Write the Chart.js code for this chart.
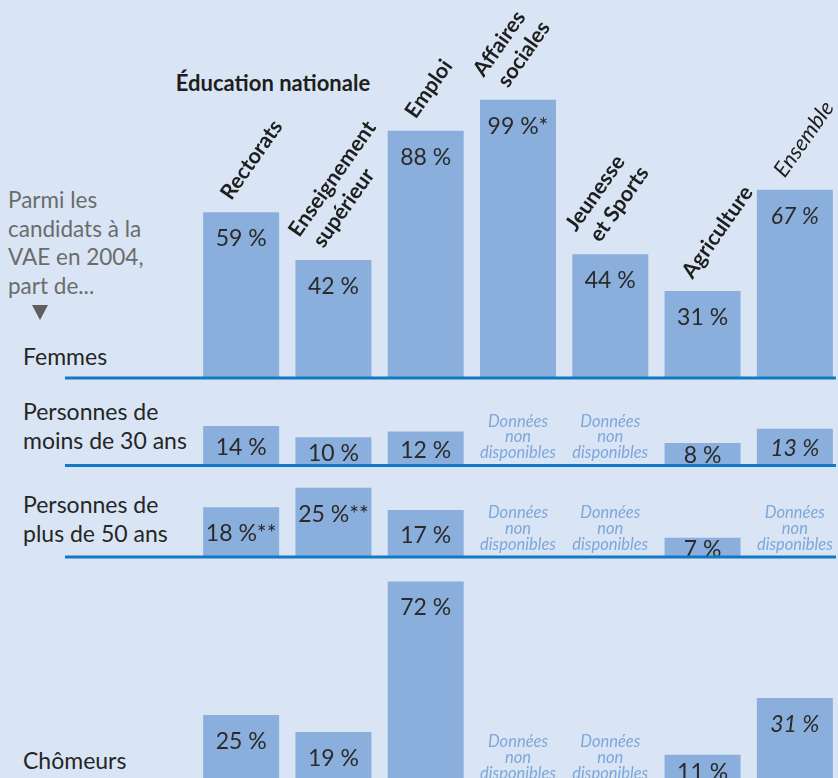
<!DOCTYPE html>
<html><head><meta charset="utf-8">
<script src="https://cdn.jsdelivr.net/npm/chart.js@4.4.1/dist/chart.umd.min.js"></script>
<style>
html,body{margin:0;padding:0;}
body{width:838px;height:778px;overflow:hidden;position:relative;background:#d9e5f4;font-family:Lato,"Open Sans",sans-serif;}
canvas{position:absolute;left:0;}
.t{position:absolute;white-space:nowrap;line-height:28.5px;color:#262626;font-size:23px;}
</style></head><body>
<div class="t" style="left:8px;top:186px;color:#6b6b6b;font-size:22.5px">Parmi les<br>candidats à la<br>VAE en 2004,<br>part de...</div>
<div style="position:absolute;left:32px;top:305px;width:0;height:0;border-left:8.5px solid transparent;border-right:8.5px solid transparent;border-top:15px solid #5f5f5f;"></div>
<div class="t" id="title" style="left:163px;width:220px;text-align:center;top:69px;font-size:22px;font-weight:bold;color:#1e1e1e"></div>
<div class="t" style="left:23px;top:342px">Femmes</div>
<div class="t" style="left:23px;top:397px">Personnes de<br>moins de 30 ans</div>
<div class="t" style="left:23px;top:490px">Personnes de<br>plus de 50 ans</div>
<div class="t" style="left:23px;top:746px">Chômeurs</div>
<canvas id="p1" width="841" height="390" style="top:0px"></canvas>
<canvas id="p2" width="841" height="84" style="top:392px"></canvas>
<canvas id="p3" width="841" height="97" style="top:470px"></canvas>
<canvas id="p4" width="841" height="235" style="top:565px"></canvas>
<script>
// ---- data ----
const categories = ['Rectorats','Enseignement supérieur','Emploi','Affaires sociales','Jeunesse et Sports','Agriculture','Ensemble'];
const categoryLines = [['Rectorats'],['Enseignement','supérieur'],['Emploi'],['Affaires','sociales'],['Jeunesse','et Sports'],['Agriculture'],['Ensemble']];
const groupTitle = 'Éducation nationale';
const femmes = [59,42,88,99,44,31,67];
const femmesNotes = ['','','','*','','',''];
const moins30 = [14,10,12,null,null,8,13];
const moins30Notes = ['','','','','','',''];
const plus50 = [18,25,17,null,null,7,null];
const plus50Notes = ['**','**','','','','',''];
const chomeurs = [25,19,72,null,null,11,31];
const chomeursNotes = ['','','','','','',''];
const naText = ['Données','non','disponibles'];

// ---- styles ----
const BAR = '#8aafdc';
const LINE = '#1479c4';
const TEXT = '#2a2a2a';
const NA_COLOR = '#7ea7da';

document.getElementById('title').textContent = groupTitle;

function drawText(ctx, t, x, y){
  ctx.textAlign = 'center'; ctx.textBaseline = 'alphabetic';
  ctx.fillText(t, x, y);
}

function drawDeco(chart, values, notes, cfg){
  const ctx = chart.ctx;
  const meta = chart.getDatasetMeta(0);
  const xs = chart.scales.x, ys = chart.scales.y;
  const y0 = ys.getPixelForValue(0);
  const last = categories.length - 1;
  ctx.save();
  values.forEach((v, i) => {
    const x = xs.getPixelForValue(i);
    if (v === null || v === undefined) {
      ctx.fillStyle = NA_COLOR;
      ctx.font = 'italic 16.5px Lato';
      naText.forEach((t, k) => drawText(ctx, t, x, y0 - 39 + k * 15.8));
      return;
    }
    const bar = meta.data[i];
    const top = bar.y, h = bar.base - bar.y;
    const cy = top + Math.min(h / 2 + 1, 25.5);
    ctx.fillStyle = TEXT;
    ctx.font = (i === last ? 'italic ' : '') + '23px Lato';
    drawText(ctx, v + ' %' + (notes[i] || ''), x, cy + 8.3);
  });
  if (cfg.categoryLabels) {
    const ang = -55 * Math.PI / 180;
    categoryLines.forEach((lines, i) => {
      const bar = meta.data[i];
      ctx.save();
      ctx.translate(bar.x - 10, bar.y - 11);
      ctx.rotate(ang);
      ctx.fillStyle = '#1e1e1e';
      ctx.font = i === last ? 'italic 22px Lato' : 'bold 21.5px Lato';
      ctx.textAlign = 'left'; ctx.textBaseline = 'alphabetic';
      const n = lines.length;
      lines.forEach((t, j) => { const k = n - 1 - j; ctx.fillText(t, -5 * k, -26 * k); });
      ctx.restore();
    });
  }
  if (cfg.line) {
    ctx.fillStyle = LINE;
    ctx.fillRect(65, y0 - 1.5, 836 - 65, 3);
  }
  ctx.restore();
}

function makePanel(id, values, notes, cfg){
  return new Chart(document.getElementById(id), {
    type: 'bar',
    data: { labels: categories, datasets: [{ data: values, backgroundColor: BAR, borderWidth: 0, barPercentage: 0.8235, categoryPercentage: 1 }] },
    options: {
      responsive: false, animation: false, events: [],
      layout: { padding: { left: 195, right: 0, top: cfg.padTop, bottom: cfg.padBottom } },
      scales: { x: { display: false }, y: { display: false, min: 0, max: cfg.max } },
      plugins: { legend: { display: false }, tooltip: { enabled: false } }
    },
    plugins: [{ id: 'deco', afterDatasetsDraw(chart){ drawDeco(chart, values, notes, cfg); } }]
  });
}

makePanel('p1', femmes, femmesNotes, { padTop: 97, padBottom: 12, max: 100, line: true, categoryLabels: true });
makePanel('p2', moins30, moins30Notes, { padTop: 0, padBottom: 10.5, max: 26, line: true });
makePanel('p3', plus50, plus50Notes, { padTop: 4, padBottom: 10, max: 30, line: true });
makePanel('p4', chomeurs, chomeursNotes, { padTop: 8, padBottom: 14, max: 75, line: false });
</script>
</body></html>
